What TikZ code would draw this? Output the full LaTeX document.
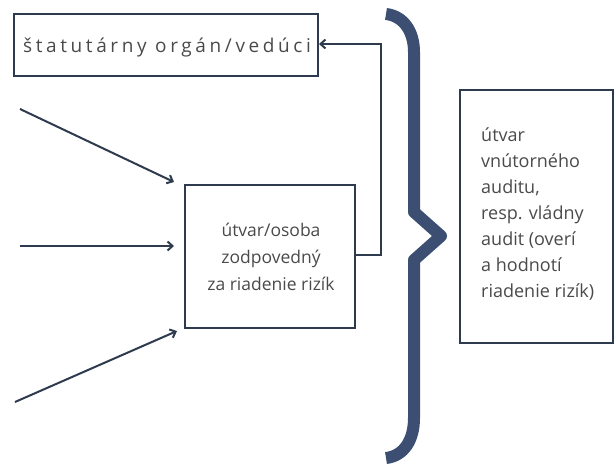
\documentclass[tikz,border=0pt]{standalone}
\usepackage{fontspec}
\setmainfont{Open Sans}
\usetikzlibrary{arrows.meta}
\definecolor{linec}{HTML}{2E3A4E}
\definecolor{bracec}{HTML}{3C4F72}
\definecolor{textc}{HTML}{4A4A4A}
\tikzset{
  boxc/.style={draw=linec, line width=2pt, inner sep=0pt},
  conn/.style={draw=linec, line width=2pt, -{Straight Barb[length=5pt,width=9pt,line width=2pt]}},
  txt/.style={text=textc, inner sep=0pt}
}
\begin{document}
\begin{tikzpicture}[x=1pt,y=-1pt]
\useasboundingbox (0,0) rectangle (614,468);
% boxes
\node[boxc, minimum width=304pt, minimum height=62pt] (top) at (166,45.5) {};
\node[txt, anchor=base west, font=\fontsize{19}{22}\selectfont] (toptext) at (23,52.5) {\addfontfeatures{LetterSpace=19}štatutárny orgán/vedúci};
\node[boxc, minimum width=170pt, minimum height=143pt] (mid) at (270,256.5) {};
\node[txt, align=center, font=\fontsize{17.5}{27}\selectfont] (midtext) at (271,257) {útvar/osoba\\zodpovedný\\za riadenie rizík};
\draw[boxc] (460,90) rectangle (613,343);
\node[txt, align=left, anchor=north west, font=\fontsize{18}{26}\selectfont] (righttext) at (481,128) {útvar\\vnútorného\\auditu,\\resp. vládny\\audit (overí\\a hodnotí\\riadenie rizík)};
% input arrows
\coordinate (a1) at (20,109);
\coordinate (a2) at (20,246);
\coordinate (a3) at (15,402);
\coordinate (e1) at (174,182);
\coordinate (e2) at (174,246);
\coordinate (e3) at (177,331);
\draw[conn] (a1) -- (e1);
\draw[conn] (a2) -- (e2);
\draw[conn] (a3) -- (e3);
% feedback connector
\draw[conn] (mid.east |- 0,255) -- (381,255) -- (381,44) -- (top.east |- 0,44);
% brace
\draw[bracec, line width=12pt, line join=round]
  (386,14) .. controls (404,16) and (414,32) .. (414,52)
  -- (414,212) -- (441,236) -- (414,260) -- (414,418)
  .. controls (414,440) and (404,456) .. (386,458);
\end{tikzpicture}
\end{document}
